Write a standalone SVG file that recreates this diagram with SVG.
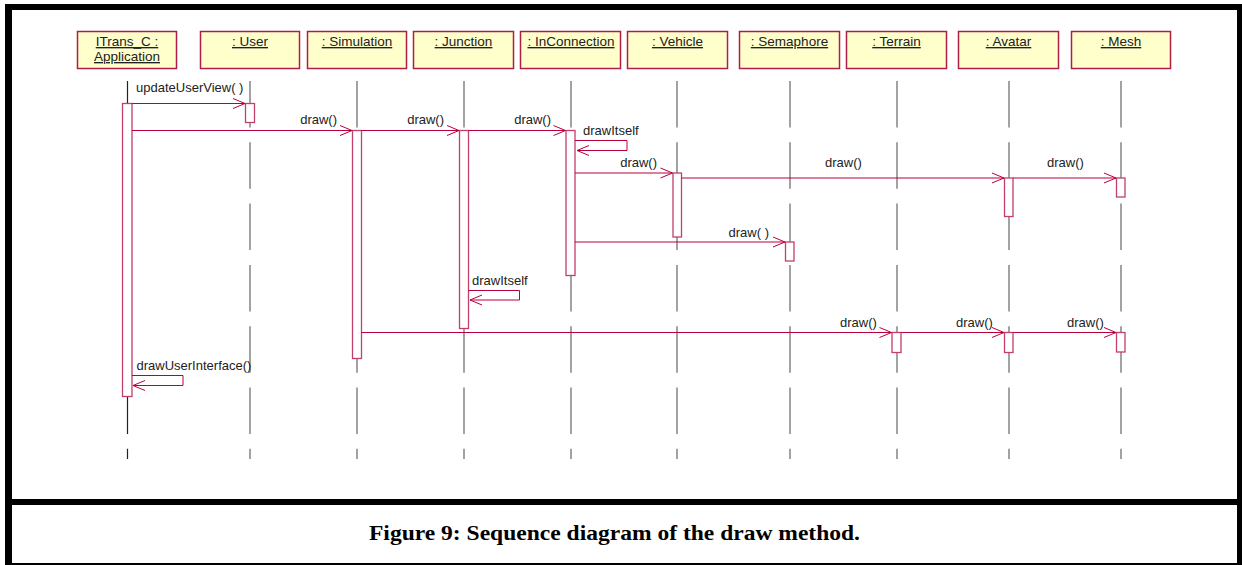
<svg xmlns="http://www.w3.org/2000/svg" width="1242" height="565" viewBox="0 0 1242 565">
<style>
.frame{fill:#000}
.obj{fill:#FFFFCC;stroke:#B01E48;stroke-width:1.5}
.olab{font-family:"Liberation Sans",Arial,sans-serif;font-size:13.5px;fill:#222;text-anchor:middle;text-decoration:underline}
.life{stroke:#666;stroke-width:1.2;stroke-dasharray:46.5 14.8;fill:none}
.act{fill:#fff;stroke:#C0406A;stroke-width:1.3}
.msg{stroke:#B8003C;stroke-width:1;fill:none;marker-end:url(#arr)}
.mlab{font-family:"Liberation Sans",Arial,sans-serif;font-size:13px;fill:#222}
.cap{font-family:"Liberation Serif","Times New Roman",serif;font-weight:bold;font-size:22px;fill:#000}
</style>
<defs>
<marker id="arr" markerUnits="userSpaceOnUse" markerWidth="14" markerHeight="12" refX="12" refY="5" orient="auto" overflow="visible">
<path d="M0,0 L12,5 L0,10" fill="none" stroke="#B8003C" stroke-width="1"/>
</marker>
</defs>
<rect width="1242" height="565" fill="#fff"/>
<g id="frame">
<rect class="frame" x="5" y="4" width="1237" height="6"/>
<rect class="frame" x="5" y="4" width="7" height="561"/>
<rect class="frame" x="1237" y="4" width="5" height="561"/>
<rect class="frame" x="5" y="499" width="1237" height="6"/>
<rect class="frame" x="5" y="563" width="1237" height="2"/>
</g>
<g id="lifelines">
<line x1="127.5" y1="81" x2="127.5" y2="459" class="life" style="stroke:#222"/>
<line x1="250" y1="81" x2="250" y2="459" class="life"/>
<line x1="357" y1="81" x2="357" y2="459" class="life"/>
<line x1="464" y1="81" x2="464" y2="459" class="life"/>
<line x1="571" y1="81" x2="571" y2="459" class="life"/>
<line x1="677" y1="81" x2="677" y2="459" class="life"/>
<line x1="790" y1="81" x2="790" y2="459" class="life"/>
<line x1="897" y1="81" x2="897" y2="459" class="life"/>
<line x1="1009" y1="81" x2="1009" y2="459" class="life"/>
<line x1="1121" y1="81" x2="1121" y2="459" class="life"/>
</g>
<g id="n-app"><rect class="obj" x="77.5" y="31.5" width="99" height="37"/><text class="olab" x="127" y="46">ITrans_C :</text><text class="olab" x="127" y="61">Application</text></g>
<g id="n-user"><rect class="obj" x="200.5" y="31.5" width="99" height="37"/><text class="olab" x="250" y="46">: User</text></g>
<g id="n-simulation"><rect class="obj" x="307.5" y="31.5" width="99" height="37"/><text class="olab" x="357" y="46">: Simulation</text></g>
<g id="n-junction"><rect class="obj" x="413.5" y="31.5" width="100" height="37"/><text class="olab" x="463.5" y="46">: Junction</text></g>
<g id="n-inconnection"><rect class="obj" x="520.5" y="31.5" width="100" height="37"/><text class="olab" x="571" y="46">: InConnection</text></g>
<g id="n-vehicle"><rect class="obj" x="627.5" y="31.5" width="100" height="37"/><text class="olab" x="677.5" y="46">: Vehicle</text></g>
<g id="n-semaphore"><rect class="obj" x="739.5" y="31.5" width="100" height="37"/><text class="olab" x="789.5" y="46">: Semaphore</text></g>
<g id="n-terrain"><rect class="obj" x="846.5" y="31.5" width="100" height="37"/><text class="olab" x="896.5" y="46">: Terrain</text></g>
<g id="n-avatar"><rect class="obj" x="958.5" y="31.5" width="100" height="37"/><text class="olab" x="1008.5" y="46">: Avatar</text></g>
<g id="n-mesh"><rect class="obj" x="1071.5" y="31.5" width="99" height="37"/><text class="olab" x="1121" y="46">: Mesh</text></g>
<g id="activations">
<rect class="act" x="122.5" y="103.5" width="9.5" height="293"/>
<rect class="act" x="245.5" y="103.5" width="9" height="19"/>
<rect class="act" x="352.5" y="130.5" width="9" height="228"/>
<rect class="act" x="459.5" y="130.5" width="9" height="198"/>
<rect class="act" x="566" y="130.5" width="9" height="145"/>
<rect class="act" x="673" y="173" width="8.5" height="64"/>
<rect class="act" x="785.5" y="242" width="8.5" height="19"/>
<rect class="act" x="1004.5" y="178" width="8.5" height="38.5"/>
<rect class="act" x="1116.5" y="178" width="8.5" height="19"/>
<rect class="act" x="892" y="332.5" width="9" height="20"/>
<rect class="act" x="1004.5" y="332.5" width="8.5" height="20"/>
<rect class="act" x="1116.5" y="332.5" width="8.5" height="19.5"/>
</g>
<g id="connectors">
<line class="msg" x1="132" y1="103.5" x2="245" y2="103.5"/>
<line class="msg" x1="132" y1="130.5" x2="352" y2="130.5"/>
<line class="msg" x1="361.5" y1="130.5" x2="459" y2="130.5"/>
<line class="msg" x1="468.5" y1="130.5" x2="565.5" y2="130.5"/>
<path class="msg" d="M575,140.5 H627 V150.5 H577"/>
<line class="msg" x1="575" y1="173" x2="672.5" y2="173"/>
<line class="msg" x1="681.5" y1="178" x2="1004" y2="178"/>
<line class="msg" x1="1013" y1="178" x2="1116" y2="178"/>
<line class="msg" x1="575" y1="242" x2="785" y2="242"/>
<path class="msg" d="M468.5,290.5 H519.5 V300 H470"/>
<line class="msg" x1="361.5" y1="332.5" x2="891.5" y2="332.5"/>
<line class="msg" x1="901" y1="332.5" x2="1004" y2="332.5"/>
<line class="msg" x1="1013" y1="332.5" x2="1116" y2="332.5"/>
<path class="msg" d="M132,375.5 H183 V385.5 H133"/>
</g>
<g id="labels">
<text class="mlab" x="136" y="92">updateUserView( )</text>
<text class="mlab" x="337" y="124" text-anchor="end">draw()</text>
<text class="mlab" x="444" y="124" text-anchor="end">draw()</text>
<text class="mlab" x="551" y="124" text-anchor="end">draw()</text>
<text class="mlab" x="583" y="134.5">drawItself</text>
<text class="mlab" x="657" y="167" text-anchor="end">draw()</text>
<text class="mlab" x="825" y="167">draw()</text>
<text class="mlab" x="1047" y="167">draw()</text>
<text class="mlab" x="769" y="237" text-anchor="end">draw( )</text>
<text class="mlab" x="472" y="285">drawItself</text>
<text class="mlab" x="840" y="327">draw()</text>
<text class="mlab" x="956" y="327">draw()</text>
<text class="mlab" x="1067" y="327">draw()</text>
<text class="mlab" x="136.5" y="370">drawUserInterface()</text>
</g>
<text class="cap" x="369" y="540" textLength="491" lengthAdjust="spacingAndGlyphs">Figure 9: Sequence diagram of the draw method.</text>
</svg>
